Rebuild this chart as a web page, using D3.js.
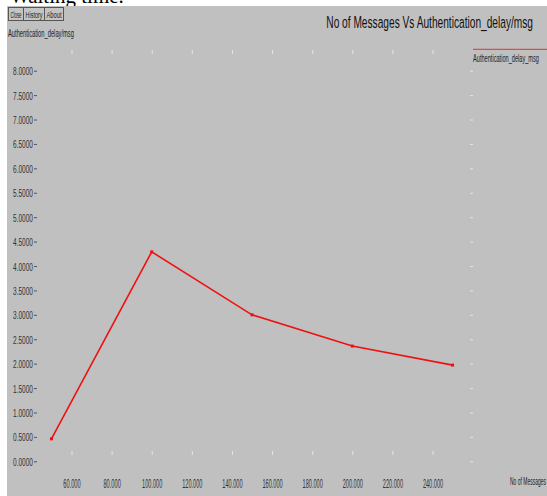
<!DOCTYPE html>
<html><head><meta charset="utf-8">
<script src="https://cdn.jsdelivr.net/npm/d3@7"></script>
<style>
html,body{margin:0;padding:0;background:#fff;overflow:hidden;}
svg{display:block;}
text{font-family:"Liberation Sans Narrow","Liberation Sans",Arial,sans-serif;}
</style></head>
<body>
<svg id="c" width="547" height="496"></svg>
<script>
// ---- data ----
const chartTitle = "No of Messages Vs Authentication_delay/msg";
const seriesName = "Authentication_delay_msg";
const yAxisTitle = "Authentication_delay/msg";
const xAxisTitle = "No of Messages";
const messages = [50000, 100000, 150000, 200000, 250000];
const delays = [0.46, 4.29, 3.00, 2.36, 1.97];
const xTickValues = [60000, 80000, 100000, 120000, 140000, 160000, 180000, 200000, 220000, 240000];
const xTickLabels = ["60.000", "80.000", "100.000", "120.000", "140.000", "160.000", "180.000", "200.000", "220.000", "240.000"];
const yTickValues = [0, 0.5, 1, 1.5, 2, 2.5, 3, 3.5, 4, 4.5, 5, 5.5, 6, 6.5, 7, 7.5, 8];
const yTickLabels = ["0.0000", "0.5000", "1.0000", "1.5000", "2.0000", "2.5000", "3.0000", "3.5000", "4.0000", "4.5000", "5.0000", "5.5000", "6.0000", "6.5000", "7.0000", "7.5000", "8.0000"];
const buttons = ["Close", "History", "About"];

const svg = d3.select("#c");

// condensed text helper: scales horizontally to a target width
function fitText(parent, str, x, y, width, size, anchor, fill) {
  const g = parent.append("g");
  const t = g.append("text").attr("x", 0).attr("y", 0).attr("text-anchor", anchor)
    .style("font-size", size + "px").attr("fill", fill).text(str);
  const nat = t.node().getComputedTextLength();
  const s = width / nat;
  g.attr("transform", `translate(${x},${y}) scale(${s},1)`);
  return g;
}

// header text (clipped by panel)
svg.append("text").attr("x", 10).attr("y", 2.5)
  .style("font-family", "'Liberation Serif','Times New Roman',serif")
  .style("font-size", "21px").attr("fill", "#000").text("Waiting time.");

// gray panel
svg.append("rect").attr("x", 7).attr("y", 6).attr("width", 540).attr("height", 490).attr("fill", "#c0c0c0");

// buttons
const bx = [8, 23, 44], bw = [15, 21, 19];
buttons.forEach((b, i) => {
  svg.append("rect").attr("x", bx[i] + 0.5).attr("y", 7.5).attr("width", bw[i]).attr("height", 13)
    .attr("fill", "#c4c4c4").attr("stroke", "#555").attr("stroke-width", 1);
  fitText(svg, b, bx[i] + bw[i] / 2 + 0.5, 17.5, bw[i] - 4, 9, "middle", "#222");
});

// scales
const x = d3.scaleLinear().domain([60000, 240000]).range([71.5, 432.5]);
const y = d3.scaleLinear().domain([0, 8]).range([461.3, 70.7]);

// title
fitText(svg, chartTitle, 533, 27.5, 207, 16.5, "end", "#111");

// y axis title
fitText(svg, yAxisTitle, 8, 36.5, 66, 10, "start", "#222");

// left axis
const yAxis = d3.axisLeft(y).tickValues(yTickValues).tickSize(3).tickPadding(1)
  .tickFormat((d, i) => yTickLabels[i]);
const gy = svg.append("g").attr("transform", "translate(37,0)").call(yAxis);
gy.select(".domain").remove();
gy.selectAll(".tick line").attr("stroke", "#555");
gy.selectAll(".tick text").attr("fill", "#333").style("font-size", "11.5px").attr("dy", "0.35em")
  .each(function () {
    const nat = this.getComputedTextLength();
    d3.select(this).attr("x", null).attr("transform", `translate(-4,0) scale(${20 / nat},1)`);
  });

// right axis ticks
const yR = d3.axisRight(y).tickValues(yTickValues).tickSize(3).tickFormat("");
const gyr = svg.append("g").attr("transform", "translate(470,0)").call(yR);
gyr.select(".domain").remove();
gyr.selectAll(".tick line").attr("stroke", "#e4e4e4");

// bottom axis
const xAxis = d3.axisBottom(x).tickValues(xTickValues).tickSize(4).tickPadding(24)
  .tickFormat((d, i) => xTickLabels[i]);
const gx = svg.append("g").attr("transform", "translate(0,451)").call(xAxis);
gx.select(".domain").remove();
gx.selectAll(".tick line").attr("stroke", "#e4e4e4");
gx.selectAll(".tick text").attr("fill", "#333").style("font-size", "12px")
  .each(function (d) {
    const nat = this.getComputedTextLength();
    const w = xTickLabels[xTickValues.indexOf(d)].length * 2.9;
    const yy = +d3.select(this).attr("y");
    d3.select(this).attr("y", null).attr("transform", `translate(0,${yy}) scale(${w / nat},1)`);
  });

// top axis ticks
const xT = d3.axisTop(x).tickValues(xTickValues).tickSize(4).tickFormat("");
const gxt = svg.append("g").attr("transform", "translate(0,54)").call(xT);
gxt.select(".domain").remove();
gxt.selectAll(".tick line").attr("stroke", "#e4e4e4");

// x axis title
fitText(svg, xAxisTitle, 510, 485, 36, 11, "start", "#222");

// legend
svg.append("line").attr("x1", 473).attr("x2", 547).attr("y1", 49.3).attr("y2", 49.3)
  .attr("stroke", "#e83030").attr("stroke-width", 1);
fitText(svg, seriesName, 473, 61.5, 66, 10, "start", "#222");

// series
const pts = messages.map((m, i) => [m, delays[i]]);
const line = d3.line().x(d => x(d[0])).y(d => y(d[1]));
svg.append("path").datum(pts).attr("d", line).attr("fill", "none")
  .attr("stroke", "#ee1111").attr("stroke-width", 1.6);
svg.selectAll(".pt").data(pts).enter().append("rect").attr("class", "pt")
  .attr("x", d => x(d[0]) - 1.5).attr("y", d => y(d[1]) - 1.5)
  .attr("width", 3).attr("height", 3).attr("fill", "#ee1111");
</script>
</body></html>
